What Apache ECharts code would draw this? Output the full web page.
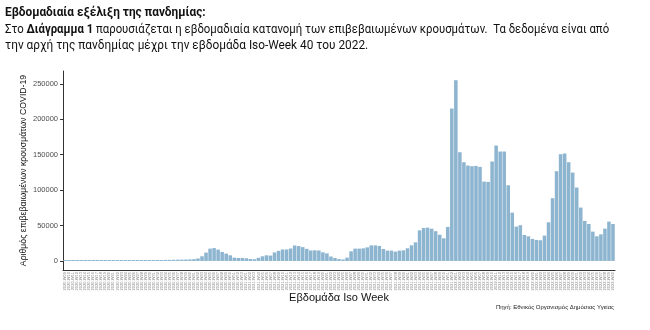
<!DOCTYPE html>
<html>
<head>
<meta charset="utf-8">
<script src="https://cdn.jsdelivr.net/npm/echarts@6/dist/echarts.min.js"></script>
<style>
html,body{margin:0;padding:0;background:#fff;}
#chart{width:650px;height:330px;}
</style>
</head>
<body>
<div id="chart"></div>
<script>
// Categories: ISO weeks 2020-W09 .. 2022-W40
const weeks2020 = ["2020-W09","2020-W10","2020-W11","2020-W12","2020-W13","2020-W14","2020-W15","2020-W16","2020-W17","2020-W18","2020-W19","2020-W20","2020-W21","2020-W22","2020-W23","2020-W24","2020-W25","2020-W26","2020-W27","2020-W28","2020-W29","2020-W30","2020-W31","2020-W32","2020-W33","2020-W34","2020-W35","2020-W36","2020-W37","2020-W38","2020-W39","2020-W40","2020-W41","2020-W42","2020-W43","2020-W44","2020-W45","2020-W46","2020-W47","2020-W48","2020-W49","2020-W50","2020-W51","2020-W52","2020-W53"];
const weeks2021 = ["2021-W01","2021-W02","2021-W03","2021-W04","2021-W05","2021-W06","2021-W07","2021-W08","2021-W09","2021-W10","2021-W11","2021-W12","2021-W13","2021-W14","2021-W15","2021-W16","2021-W17","2021-W18","2021-W19","2021-W20","2021-W21","2021-W22","2021-W23","2021-W24","2021-W25","2021-W26","2021-W27","2021-W28","2021-W29","2021-W30","2021-W31","2021-W32","2021-W33","2021-W34","2021-W35","2021-W36","2021-W37","2021-W38","2021-W39","2021-W40","2021-W41","2021-W42","2021-W43","2021-W44","2021-W45","2021-W46","2021-W47","2021-W48","2021-W49","2021-W50","2021-W51","2021-W52"];
const weeks2022 = ["2022-W01","2022-W02","2022-W03","2022-W04","2022-W05","2022-W06","2022-W07","2022-W08","2022-W09","2022-W10","2022-W11","2022-W12","2022-W13","2022-W14","2022-W15","2022-W16","2022-W17","2022-W18","2022-W19","2022-W20","2022-W21","2022-W22","2022-W23","2022-W24","2022-W25","2022-W26","2022-W27","2022-W28","2022-W29","2022-W30","2022-W31","2022-W32","2022-W33","2022-W34","2022-W35","2022-W36","2022-W37","2022-W38","2022-W39","2022-W40"];

// Weekly confirmed cases
const cases2020 = [0,80,250,450,550,650,600,450,250,100,120,100,60,50,60,80,120,100,150,200,250,300,600,1000,1300,1500,1600,1700,1800,1900,2000,2200,2600,3500,6600,11800,17400,18200,16000,12700,10400,8000,4700,4200,4200];
const cases2021 = [3800,2800,2400,4400,6600,8000,7600,12000,14300,16200,16200,17600,21800,21000,19500,17100,14800,15000,14800,12200,10700,6300,4200,2600,2100,4700,13600,17400,17400,17800,19200,22000,22000,21200,16900,14600,14600,13200,14600,15000,17900,22100,26300,43200,46500,47000,45500,42000,37000,32000,48000,215000];
const cases2022 = [255000,153400,139300,134600,133700,134100,132700,112000,111600,140300,162900,154400,154400,106800,68200,48500,50400,36700,34800,31100,29700,29200,35800,54600,88500,126600,150600,151600,139300,124700,103600,75300,56500,52200,41400,34800,37600,45600,55500,52200];

const yTicks = [0,50000,100000,150000,200000,250000];

const categories = weeks2020.concat(weeks2021, weeks2022);
const values = cases2020.concat(cases2021, cases2022);

const chart = echarts.init(document.getElementById('chart'), null, {renderer:'canvas'});
const baseFont = 'Roboto, "Noto Sans", sans-serif';
const arial = '"Liberation Sans", Arial, sans-serif';
chart.setOption({
  animation:false,
  backgroundColor:'#ffffff',
  grid:{left:63, right:35, top:71, bottom:60, containLabel:false},
  xAxis:{
    type:'category',
    data:categories,
    boundaryGap:true,
    name:'Εβδομάδα Iso Week',
    nameLocation:'middle',
    nameGap:22,
    nameMoveOverlap:false,
    nameTextStyle:{fontFamily:arial, fontSize:11, color:'#111'},
    axisLine:{onZero:false, lineStyle:{color:'#333', width:1}},
    axisTick:{interval:0, length:2, lineStyle:{color:'#555', width:0.6}},
    axisLabel:{interval:0, rotate:90, fontSize:4, margin:2, color:'#888', fontFamily:arial}
  },
  yAxis:{
    type:'value',
    min:-12750,
    max:268000,
    name:'Αριθμός επιβεβαιωμένων κρουσμάτων COVID-19',
    nameLocation:'middle',
    nameGap:35,
    nameMoveOverlap:false,
    nameTextStyle:{fontFamily:arial, fontSize:8.7, color:'#111'},
    splitLine:{show:false},
    axisLine:{show:true, lineStyle:{color:'#333', width:1}},
    axisTick:{show:true, length:3, customValues:yTicks, lineStyle:{color:'#333'}},
    axisLabel:{customValues:yTicks, formatter:function(v){return String(v);}, fontSize:7.5, color:'#4d4d4d', margin:5, fontFamily:arial}
  },
  series:[{
    type:'bar',
    data:values,
    barCategoryGap:'12%',
    barMinHeight:1,
    itemStyle:{color:'#8eb5d0'}
  }],
  graphic:[
    {type:'text', left:5, top:6, scaleX:0.91, originX:0,
     style:{text:'Εβδομαδιαία εξέλιξη της πανδημίας:', font:'bold 13px '+baseFont, fill:'#111'}},
    {type:'text', left:5, top:23, scaleX:0.873, originX:0,
     style:{text:'{n|Στο }{b|Διάγραμμα 1}{n| παρουσιάζεται η εβδομαδιαία κατανομή των επιβεβαιωμένων κρουσμάτων.  Τα δεδομένα είναι από}',
       rich:{n:{fontFamily:baseFont, fontSize:13, fill:'#111', fontWeight:'normal'}, b:{fontFamily:baseFont, fontSize:13, fill:'#111', fontWeight:'bold'}}}},
    {type:'text', left:5, top:39, scaleX:0.91, originX:0,
     style:{text:'την αρχή της πανδημίας μέχρι την εβδομάδα Iso-Week 40 του 2022.', font:'13px '+baseFont, fill:'#111'}},
    {type:'text', right:36, top:304,
     style:{text:'Πηγή: Εθνικός Οργανισμός Δημόσιας Υγείας', font:'6px '+arial, fill:'#222'}}
  ]
});
</script>
</body>
</html>
